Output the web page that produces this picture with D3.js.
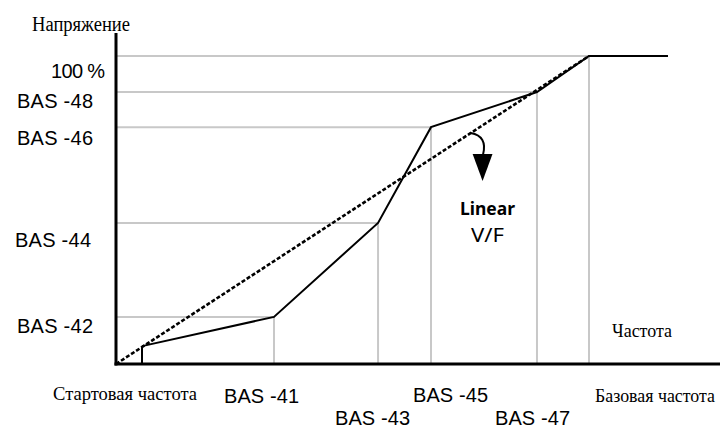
<!DOCTYPE html>
<html>
<head>
<meta charset="utf-8">
<script src="https://cdn.jsdelivr.net/npm/d3@7"></script>
<style>
  body { margin: 0; background: #fff; }
  svg { display: block; }
</style>
</head>
<body>
<svg></svg>
<script>
// V/F pattern, x = frequency (% of base), y = voltage (%)
const pointNames = ['Старт', 'BAS -41/42', 'BAS -43/44', 'BAS -45/46', 'BAS -47/48', 'Базовая'];
const freqValues = [5.5, 33.4, 55.4, 66.6, 89.0, 100];
const voltValues = [5.8, 15.3, 45.8, 76.9, 88.3, 100];
const maxFreq = 116.7;

const yTickLabels = ['BAS -42', 'BAS -44', 'BAS -46', 'BAS -48', '100 %'];
const xTickLabels = ['Стартовая частота', 'BAS -41', 'BAS -43', 'BAS -45', 'BAS -47', 'Базовая частота'];

const width = 720, height = 429;

const svg = d3.select('svg')
    .attr('width', width)
    .attr('height', height);

const x = d3.scaleLinear().domain([0, 100]).range([116, 589]);
const y = d3.scaleLinear().domain([0, 100]).range([364, 56]);

const pts = freqValues.map((f, i) => ({ name: pointNames[i], f: f, v: voltValues[i] }));
const gridPts = pts.slice(1);

// grid lines (gray), horizontal to the y axis and vertical to the x axis
svg.append('g')
    .selectAll('line')
    .data(gridPts)
    .enter()
    .append('line')
        .attr('x1', x(0))
        .attr('x2', d => x(d.f))
        .attr('y1', d => y(d.v))
        .attr('y2', d => y(d.v))
        .attr('stroke', '#c8c8c8')
        .attr('stroke-width', 2);

svg.append('g')
    .selectAll('line')
    .data(gridPts)
    .enter()
    .append('line')
        .attr('x1', d => x(d.f))
        .attr('x2', d => x(d.f))
        .attr('y1', d => y(d.v))
        .attr('y2', y(0))
        .attr('stroke', '#c8c8c8')
        .attr('stroke-width', 2);

// start frequency riser
svg.append('line')
    .attr('x1', x(pts[0].f))
    .attr('x2', x(pts[0].f))
    .attr('y1', y(pts[0].v))
    .attr('y2', y(0))
    .attr('stroke', '#000')
    .attr('stroke-width', 2);

// user V/F curve
const line = d3.line().x(d => x(d.f)).y(d => y(d.v));
svg.append('path')
    .datum(pts.concat([{ f: maxFreq, v: 100 }]))
    .attr('d', line)
    .attr('fill', 'none')
    .attr('stroke', '#000')
    .attr('stroke-width', 2)
    .attr('stroke-linejoin', 'miter');

// linear V/F (dashed)
svg.append('path')
    .datum([{ f: 0, v: 0 }, { f: 100, v: 100 }])
    .attr('d', line)
    .attr('fill', 'none')
    .attr('stroke', '#000')
    .attr('stroke-width', 2.6)
    .attr('stroke-dasharray', '4,2');

// axes
svg.append('line')
    .attr('x1', x(0)).attr('x2', x(0))
    .attr('y1', 33).attr('y2', y(0) + 1.5)
    .attr('stroke', '#000').attr('stroke-width', 3);
svg.append('line')
    .attr('x1', x(0) - 1.5).attr('x2', width)
    .attr('y1', y(0)).attr('y2', y(0))
    .attr('stroke', '#000').attr('stroke-width', 3);

// curved arrow from the dashed line
svg.append('path')
    .attr('d', `M${x(75)},${y(75)} Q${x(78.6)},${y(74)} ${x(77.6)},${y(68)}`)
    .attr('fill', 'none')
    .attr('stroke', '#000')
    .attr('stroke-width', 2);
svg.append('path')
    .attr('d', `M${x(75.4)},${y(68.2)} L${x(79.6)},${y(68.2)} L${x(77.5)},${y(59.4)} Z`)
    .attr('fill', '#000');

const sans = "'Liberation Sans', Arimo, Arial, sans-serif";
const serif = "'Liberation Serif', Tinos, 'Times New Roman', serif";

// y labels
const yLabelPos = [[17, 333], [15, 247], [17, 145], [17, 108], [51, 78]];
svg.append('g')
    .selectAll('text')
    .data(yTickLabels)
    .enter()
    .append('text')
        .attr('x', (d, i) => yLabelPos[i][0])
        .attr('y', (d, i) => yLabelPos[i][1])
        .attr('textLength', (d, i) => i === 4 ? 54 : 76)
        .attr('lengthAdjust', 'spacing')
        .style('font-family', sans)
        .style('font-size', '20px')
        .text(d => d);

// x labels
const xLabelPos = [[53, 400, 144, serif, 19], [224, 403, 75, sans, 20], [335, 425, 75, sans, 20],
                   [413, 402, 75, sans, 20], [495, 425, 75, sans, 20], [595, 402, 120, serif, 18]];
svg.append('g')
    .selectAll('text')
    .data(xTickLabels)
    .enter()
    .append('text')
        .attr('x', (d, i) => xLabelPos[i][0])
        .attr('y', (d, i) => xLabelPos[i][1])
        .attr('textLength', (d, i) => xLabelPos[i][2])
        .attr('lengthAdjust', (d, i) => xLabelPos[i][3] === serif ? 'spacingAndGlyphs' : 'spacing')
        .style('font-family', (d, i) => xLabelPos[i][3])
        .style('font-size', (d, i) => xLabelPos[i][4] + 'px')
        .text(d => d);

// axis titles
svg.append('text')
    .attr('x', 32).attr('y', 31)
    .attr('textLength', 98).attr('lengthAdjust', 'spacingAndGlyphs')
    .style('font-family', serif).style('font-size', '20px')
    .text('Напряжение');
svg.append('text')
    .attr('x', 612).attr('y', 337)
    .attr('textLength', 60).attr('lengthAdjust', 'spacingAndGlyphs')
    .style('font-family', serif).style('font-size', '19px')
    .text('Частота');

// Linear V/F note
svg.append('text')
    .attr('x', 460).attr('y', 215)
    .attr('textLength', 55).attr('lengthAdjust', 'spacingAndGlyphs')
    .style('font-family', "'Noto Sans', sans-serif").style('font-size', '18px')
    .style('font-weight', 'bold')
    .text('Linear');
svg.append('text')
    .attr('x', 471).attr('y', 242)
    .attr('textLength', 33).attr('lengthAdjust', 'spacingAndGlyphs')
    .style('font-family', "'Noto Sans', sans-serif").style('font-size', '19px')
    .text('V/F');
</script>
</body>
</html>
